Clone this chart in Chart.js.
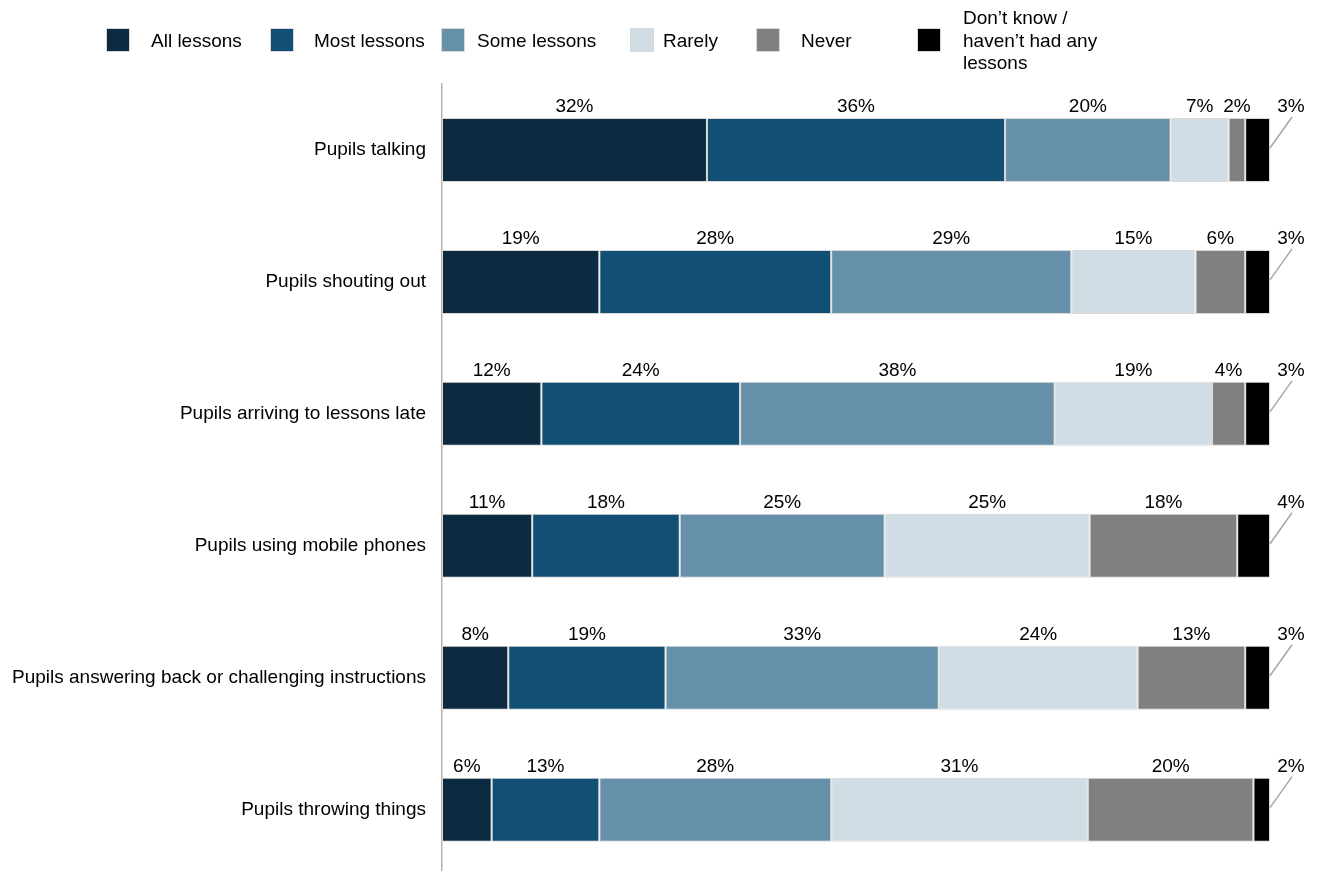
<!DOCTYPE html>
<html>
<head>
<meta charset="utf-8">
<title>Disruptive behaviour in lessons</title>
<script src="https://cdn.jsdelivr.net/npm/chart.js@4.4.0/dist/chart.umd.min.js"></script>
<style>
  html, body { margin: 0; padding: 0; background: #fff; overflow: hidden; }
  .wrap { width: 1319px; height: 903px; }
</style>
</head>
<body>
<div class="wrap"><canvas id="behaviourChart" width="1319" height="903"></canvas></div>
<script>
const categories = [
    "Pupils talking",
    "Pupils shouting out",
    "Pupils arriving to lessons late",
    "Pupils using mobile phones",
    "Pupils answering back or challenging instructions",
    "Pupils throwing things"
]

const seriesNames = [
    "All lessons",
    "Most lessons",
    "Some lessons",
    "Rarely",
    "Never",
    ["Don\u2019t know /", "haven\u2019t had any", "lessons"]
]

// percentages per response, one value per behaviour
const allLessons  = [32, 19, 12, 11, 8, 6]
const mostLessons = [36, 28, 24, 18, 19, 13]
const someLessons = [20, 29, 38, 25, 33, 28]
const rarely      = [7, 15, 19, 25, 24, 31]
const never       = [2, 6, 4, 18, 13, 20]
const dontKnow    = [3, 3, 3, 4, 3, 2]

const seriesColors = ["#0c2a40", "#114f75", "#668fa9", "#d0dde5", "#808080", "#000000"]

const FONT = '"Liberation Sans", Arial, sans-serif'

const allSeries = [allLessons, mostLessons, someLessons, rarely, never, dontKnow]

// rows are shown as 100% bars, so scale each row by its own total
const rowTotals = categories.map((_, j) => allSeries.reduce((s, arr) => s + arr[j], 0))

const datasets = allSeries.map((values, i) => ({
    label: Array.isArray(seriesNames[i]) ? seriesNames[i].join(" ") : seriesNames[i],
    counts: values,
    data: values.map((v, j) => v / rowTotals[j] * 100),
    backgroundColor: seriesColors[i],
    borderColor: "#d9d9d9",
    borderWidth: 1,
    borderSkipped: false,
    barPercentage: 0.485,
    categoryPercentage: 1
}))

// legend drawn by hand so the last entry can wrap onto three lines
const legendBoxX  = [106, 270, 441, 630, 756, 917]
const legendTextX = [151, 314, 477, 663, 801, 963]

const legendPlugin = {
    id: "wrappedLegend",
    afterDraw(chart) {
        const ctx = chart.ctx
        ctx.save()
        ctx.font = "19px " + FONT
        ctx.textBaseline = "middle"
        ctx.textAlign = "left"
        seriesNames.forEach((name, i) => {
            ctx.fillStyle = seriesColors[i]
            ctx.fillRect(legendBoxX[i], 28, 24, 24)
            ctx.strokeStyle = "#d9d9d9"
            ctx.lineWidth = 1
            ctx.strokeRect(legendBoxX[i] + 0.5, 28.5, 23, 23)
            ctx.fillStyle = "#000"
            if (Array.isArray(name)) {
                name.forEach((line, k) => ctx.fillText(line, legendTextX[i], 19 + k * 22.5))
            } else {
                ctx.fillText(name, legendTextX[i], 42)
            }
        })
        ctx.restore()
    }
}

// percent labels above each segment, last series pulled out with a leader line
const labelPlugin = {
    id: "valueLabels",
    afterDatasetsDraw(chart) {
        const ctx = chart.ctx
        const last = chart.data.datasets.length - 1
        ctx.save()
        ctx.font = "19px " + FONT
        ctx.fillStyle = "#000"
        ctx.textAlign = "center"
        ctx.textBaseline = "middle"
        chart.data.datasets.forEach((ds, i) => {
            chart.getDatasetMeta(i).data.forEach((bar, j) => {
                const top = bar.y - bar.height / 2
                const text = ds.counts[j] + "%"
                if (i === last) {
                    const lx = bar.x + 21
                    ctx.strokeStyle = "#a6a6a6"
                    ctx.lineWidth = 1.5
                    ctx.beginPath()
                    ctx.moveTo(bar.x, bar.y - 2)
                    ctx.lineTo(lx + 1, top - 1)
                    ctx.stroke()
                    ctx.fillText(text, lx, top - 11)
                } else {
                    ctx.fillText(text, (bar.x + bar.base) / 2, top - 11)
                }
            })
        })
        ctx.restore()
    }
}

let ctx = document.getElementById("behaviourChart").getContext("2d")

new Chart(ctx, {
    type: "bar",
    data: {
        labels: categories,
        datasets: datasets
    },
    plugins: [legendPlugin, labelPlugin],
    options: {
        indexAxis: "y",
        responsive: false,
        animation: false,
        layout: {
            padding: { top: 84, right: 49, bottom: 4, left: 0 }
        },
        plugins: {
            legend: { display: false },
            tooltip: { enabled: false }
        },
        scales: {
            x: {
                stacked: true,
                display: false,
                min: 0,
                max: 100
            },
            y: {
                stacked: true,
                grid: { display: false, drawTicks: false },
                border: { display: true, color: "#b3b3b3", width: 1.5 },
                ticks: {
                    color: "#000",
                    padding: 16,
                    font: { family: FONT, size: 19 }
                },
                afterFit(scale) {
                    scale.width = 442
                }
            }
        }
    }
})
</script>
</body>
</html>
